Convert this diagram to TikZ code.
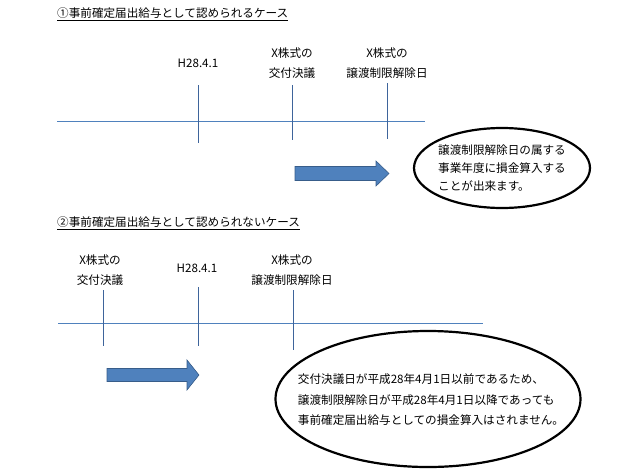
\documentclass[tikz,border=0pt]{standalone}
\usepackage{fontspec}
\setmainfont{Noto Sans CJK JP}
\usetikzlibrary{shapes.geometric}
\definecolor{axisblue}{RGB}{79,129,189}
\definecolor{tickblue}{RGB}{62,100,155}
\definecolor{arrowfill}{RGB}{79,129,189}
\definecolor{arrowline}{RGB}{56,93,138}
\begin{document}
\begin{tikzpicture}[x=1pt,y=-1pt,
  every node/.style={font=\fontsize{11.6pt}{20pt}\selectfont, inner sep=0pt},
  axis/.style={draw=axisblue, line width=1pt},
  tick/.style={draw=tickblue, line width=0.8pt},
  lbl/.style={align=center},
  titletext/.style={anchor=west},
  bubble/.style={draw=black, line width=2.2pt, ellipse},
  bubbletext/.style={align=left},
  fatarrow/.style={fill=arrowfill, draw=arrowline, line width=0.6pt}]
\useasboundingbox (0,0) rectangle (620,474);
% ---------- case 1 ----------
\node[titletext] (title1) at (57,14) {\underline{①事前確定届出給与として認められるケース}};
\coordinate (a1s) at (57,121);
\coordinate (a1e) at (425,121);
\draw[axis] (a1s) -- (a1e);
\coordinate (t11a) at (198,85);  \coordinate (t11b) at (198,143);
\coordinate (t12a) at (292,85);  \coordinate (t12b) at (292,140);
\coordinate (t13a) at (387,83);  \coordinate (t13b) at (387,139);
\draw[tick] (t11a) -- (t11b);
\draw[tick] (t12a) -- (t12b);
\draw[tick] (t13a) -- (t13b);
\node[lbl] (l11) at (198,63) {H28.4.1};
\node[lbl] (l12) at (292,63) {X株式の\\交付決議};
\node[lbl] (l13) at (387,63) {X株式の\\譲渡制限解除日};
\fill[fatarrow] (295,166.5) -- (376,166.5) -- (376,161) -- (389,173.5) -- (376,186) -- (376,180.5) -- (295,180.5) -- cycle;
\node[bubble, minimum width=176pt, minimum height=80pt] (e1) at (502,168) {};
\node[bubbletext, font=\fontsize{11.6pt}{18pt}\selectfont] (e1t) at (e1.center) {譲渡制限解除日の属する\\事業年度に損金算入する\\ことが出来ます。};
% ---------- case 2 ----------
\node[titletext] (title2) at (57,223) {\underline{②事前確定届出給与として認められないケース}};
\coordinate (a2s) at (58,323);
\coordinate (a2e) at (483,323);
\draw[axis] (a2s) -- (a2e);
\coordinate (t21a) at (103,290); \coordinate (t21b) at (103,346);
\coordinate (t22a) at (198,287); \coordinate (t22b) at (198,346);
\coordinate (t23a) at (293,290); \coordinate (t23b) at (293,350);
\draw[tick] (t21a) -- (t21b);
\draw[tick] (t22a) -- (t22b);
\draw[tick] (t23a) -- (t23b);
\node[lbl] (l21) at (100,270) {X株式の\\交付決議};
\node[lbl] (l22) at (197,268) {H28.4.1};
\node[lbl] (l23) at (292,270) {X株式の\\譲渡制限解除日};
\fill[fatarrow] (107,368.5) -- (187,368.5) -- (187,360) -- (199,375) -- (187,390) -- (187,381.5) -- (107,381.5) -- cycle;
\node[bubble, minimum width=305pt, minimum height=136pt] (e2) at (428,399) {};
\node[bubbletext, font=\fontsize{11.6pt}{20.5pt}\selectfont] (e2t) at (431,400) {交付決議日が平成28年4月1日以前であるため、\\譲渡制限解除日が平成28年4月1日以降であっても\\事前確定届出給与としての損金算入はされません。};
\end{tikzpicture}
\end{document}
